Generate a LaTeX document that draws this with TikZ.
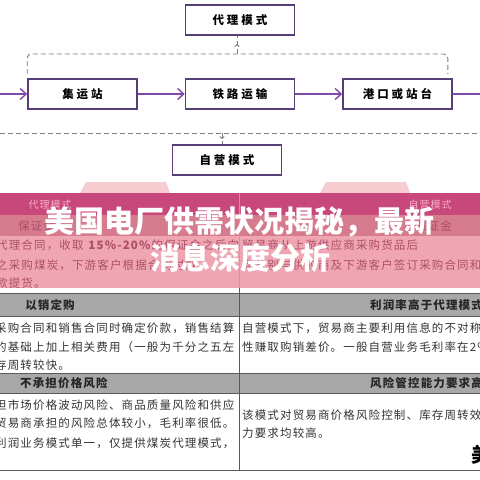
\documentclass[tikz,border=0pt]{standalone}
\usepackage{fontspec}
\newfontfamily\cjkbox[LetterSpace=26]{Noto Sans CJK SC}
\newfontfamily\cjkbody[LetterSpace=10]{Noto Sans CJK SC}
\newfontfamily\cjktitle{Noto Sans CJK SC}
\usetikzlibrary{arrows.meta, positioning, calc, decorations.markings}
\definecolor{boxpurple}{RGB}{88,62,120}
\definecolor{flowpurple}{RGB}{128,72,168}
\definecolor{dashgray}{RGB}{125,125,125}
\definecolor{headpink}{RGB}{201,72,124}
\definecolor{subpink}{RGB}{214,122,142}
\definecolor{bodypink}{RGB}{240,166,178}
\definecolor{ghostpink}{RGB}{246,204,208}
\definecolor{fadepink}{RGB}{246,172,196}
\definecolor{pinkink}{RGB}{172,78,104}
\definecolor{bandgray}{RGB}{168,168,168}
\definecolor{inkgray}{RGB}{52,52,52}
\definecolor{rulegray}{RGB}{90,90,90}

\tikzset{
  modebox/.style={draw=boxpurple, line width=1.6pt, fill=white, minimum width=109pt,
    minimum height=30pt, inner sep=0pt, font=\cjkbox\fontsize{11.5}{12}\selectfont\bfseries},
  flow/.style={-{Straight Barb[length=6pt,width=11pt]}, flowpurple, line width=1.4pt},
  guide/.style={dashgray, line width=0.9pt, dash pattern=on 5pt off 3pt},
  tipmark/.style={postaction={decorate, decoration={markings,
    mark=at position 0.55 with {\arrow[solid]{Straight Barb[length=2pt,width=4.5pt]}}}}},
  bodyline/.style={inner sep=0pt, text=inkgray, font=\cjkbody\fontsize{11.5}{12}\selectfont},
  pinkline/.style={bodyline, text=pinkink},
  bandtext/.style={inner sep=0pt, text=black!85, font=\cjkbody\fontsize{11.5}{12}\selectfont\bfseries},
  rule/.style={rulegray, line width=1pt}
}

\begin{document}
\begin{tikzpicture}[x=1pt, y=-1pt]
  \useasboundingbox (0,0) rectangle (480,480);
  \clip (0,0) rectangle (480,480);
  \fill[white] (0,0) rectangle (480,480);

  % flow chart
  \node[modebox] (daili) at (240,20) {代理模式};
  \node[modebox] (jiyun) at (82.5,94) {集运站};
  \node[modebox] (tielu) at (240,94) {铁路运输};
  \node[modebox] (gangkou) at (397.5,94) {港口或站台};
  \node[modebox] (ziying) at (227,160) {自营模式};

  \coordinate (inlet) at (-5,94);
  \coordinate (outlet) at (500,94);
  \draw[flow] (inlet) -- (jiyun);
  \draw[flow] (jiyun) -- (tielu);
  \draw[flow] (tielu) -- (gangkou);
  \draw[flow] (gangkou) -- (outlet);

  % dashed guides
  \coordinate (brace) at (237,54);
  \draw[guide, rounded corners=4pt] ($(jiyun.north west)+(0,-4)$) |- (brace) -| ($(gangkou.north east)+(-5,-4)$);
  \draw[guide, tipmark] (brace) -- (brace |- daili.south);
  \coordinate (lleft) at (0,133);
  \coordinate (lright) at (480,133);
  \coordinate (split) at (222,133);
  \draw[guide] (lleft) -- (lright);
  \draw[guide, tipmark] (split) -- (split |- ziying.north);

  % table under the banner
  \fill[ghostpink] (80,193) -- (86,182) -- (166,182) -- (170,193) -- cycle;
  \fill[ghostpink] (320,193) -- (326,182) -- (406,182) -- (410,193) -- cycle;
  \fill[headpink] (0,193) rectangle (480,215);
  \fill[subpink] (0,215) rectangle (480,236);
  \fill[bodypink] (0,236) rectangle (480,288);
  \draw[pinkink!60, line width=0.6pt] (239,193) -- (239,288);

  \node[inner sep=0pt, text=fadepink, font=\cjkbody\fontsize{10}{10}\selectfont] (hleft) at (50,205) {代理模式};
  \node[inner sep=0pt, text=fadepink, font=\cjkbody\fontsize{10}{10}\selectfont] (hright) at (430,205) {自营模式};
  \node[pinkline, anchor=west] (gleft) at (18,226) {保证金};
  \node[pinkline, anchor=east] (gright) at (452,226) {保证金};
  \node[pinkline, anchor=west] (pa1) at (-4,245) {代理合同，收取 \textbf{15\%-20\%}的保证金之后向};
  \node[pinkline, anchor=west] (pa2) at (-4,265) {之采购煤炭，下游客户根据合同付款};
  \node[pinkline, anchor=west] (pa3) at (-4,283) {款提货。};
  \node[pinkline, anchor=west] (pb1) at (242,245) {贸易商从上游供应商采购货品后};
  \node[pinkline, anchor=west] (pb2) at (242,265) {商分别与供应商及下游客户签订采购合同和};

  % grey bands
  \fill[bandgray] (0,293) rectangle (480,316);
  \fill[bandgray] (0,373) rectangle (480,393);
  \foreach \y in {293,316,373,393,470}
    \draw[rule] (0,\y) -- (480,\y);
  \draw[rulegray, line width=0.8pt] (239,288) -- (239,470);

  \node[bandtext] (b1left) at (50,305) {以销定购};
  \node[bandtext, anchor=west] (b1right) at (370,305) {利润率高于代理模式};
  \node[bandtext, anchor=west] (b2left) at (20,383) {不承担价格风险};
  \node[bandtext, anchor=west] (b2right) at (370,383) {风险管控能力要求高};

  % column text
  \node[bodyline, anchor=west] (ta1) at (-5,328) {采购合同和销售合同时确定价款，销售结算};
  \node[bodyline, anchor=west] (ta2) at (-5,347) {的基础上加上相关费用（一般为千分之五左};
  \node[bodyline, anchor=west] (ta3) at (-5,365) {存周转较快。};
  \node[bodyline, anchor=west] (tb1) at (242,328) {自营模式下，贸易商主要利用信息的不对称};
  \node[bodyline, anchor=west] (tb2) at (242,347) {性赚取购销差价。一般自营业务毛利率在2\%};
  \node[bodyline, anchor=west] (tc1) at (-5,405) {担市场价格波动风险、商品质量风险和供应};
  \node[bodyline, anchor=west] (tc2) at (-5,423) {贸易商承担的风险总体较小，毛利率很低。};
  \node[bodyline, anchor=west] (tc3) at (-5,443) {利润业务模式单一，仅提供煤炭代理模式，};
  \node[bodyline, anchor=west] (td1) at (242,415) {该模式对贸易商价格风险控制、库存周转效};
  \node[bodyline, anchor=west] (td2) at (242,433) {力要求均较高。};
  \node[inner sep=0pt, anchor=west, font=\cjktitle\fontsize{20}{20}\selectfont\bfseries] (mark) at (471,455) {美};

  % banner title
  \node[inner sep=0pt, text=white, font=\cjktitle\fontsize{30}{30}\selectfont\bfseries] (title1) at (240,222) {美国电厂供需状况揭秘，最新};
  \node[inner sep=0pt, text=white, font=\cjktitle\fontsize{30}{30}\selectfont\bfseries] (title2) at (240,258) {消息深度分析};
\end{tikzpicture}
\end{document}
